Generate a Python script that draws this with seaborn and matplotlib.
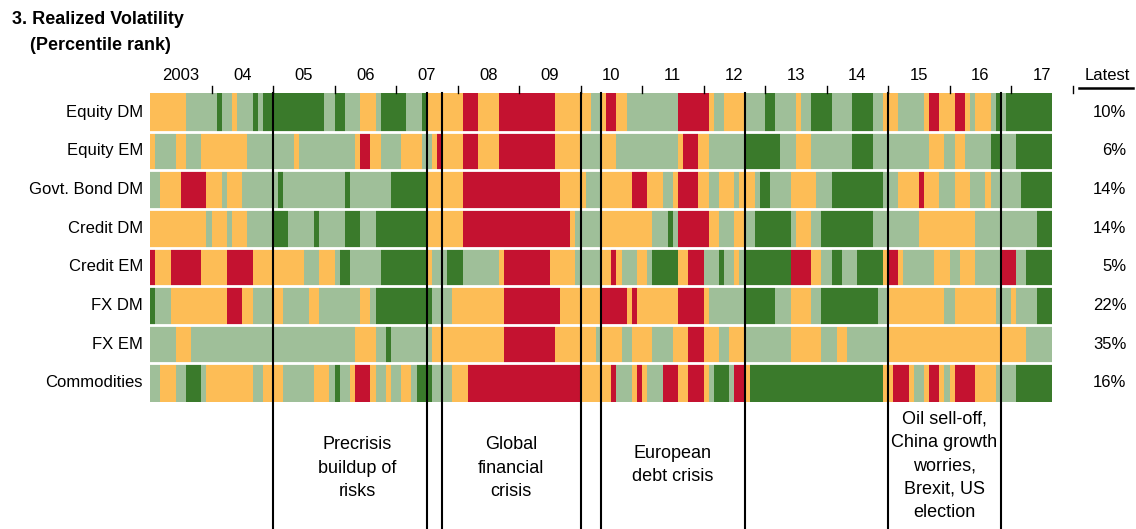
import numpy as np
import pandas as pd
import matplotlib
matplotlib.use("Agg")
import matplotlib.pyplot as plt
from matplotlib.colors import ListedColormap
from matplotlib import font_manager
import seaborn as sns

# rows of the chart, top to bottom
assets = ["Equity DM", "Equity EM", "Govt. Bond DM", "Credit DM",
          "Credit EM", "FX DM", "FX EM", "Commodities"]
latest = ["10%", "6%", "14%", "14%", "5%", "22%", "35%", "16%"]

# monthly percentile bucket, Jan 2003 - Aug 2017, as runs "<bucket><months>"
# D = 0-25, L = 25-50, O = 50-75, R = 75-100
runs = {
    "Equity DM": "O7 L6 D1 L2 O1 L3 D1 L1 D12 L2 D2 L3 O3 L1 D5 L3 D1 O7 R3 O4 R11 O7 L2 "
                 "O1 R2 O2 L10 R6 O1 L2 O4 L4 D2 L4 O1 L2 D4 L4 D4 L2 O3 L5 O1 R2 O3 R2 O1 L1 O3 L1 D1 L1 D9",
    "Equity EM": "O1 L4 O2 L3 O9 L9 O1 L11 O1 R2 O2 L4 O4 L2 O1 R1 O4 R3 O4 R11 O5 L4 "
                 "O3 L12 O1 R3 O2 L7 D7 L3 O3 L8 D4 L11 O3 L2 O2 L5 D2 L3 D7",
    "Govt. Bond DM": "L2 O4 R5 O3 L1 O3 L7 D1 L12 D1 L8 D7 O7 R19 O5 L3 "
                     "O6 R3 O3 L2 O1 R4 O2 L2 O3 L1 O3 L1 D2 L4 O5 L3 D10 L3 O4 R1 O3 L3 O3 L3 O1 L6 D6",
    "Credit DM": "O11 L1 O3 L1 O3 L5 D3 L5 D1 L5 D3 L3 D10 O7 R21 O1 L5 "
                 "O10 L3 D1 L1 R6 O2 L3 O2 L2 D7 L1 O3 L2 D10 L9 O11 L12 D3",
    "Credit EM": "R1 O3 R6 O5 R5 O10 L3 O3 L1 D2 L6 D9 O1 L3 D3 L7 O1 R9 O5 L5 "
                 "O2 R1 O1 L3 O2 L1 D5 O2 R3 L3 D1 L2 O1 L1 D9 R4 O2 L2 D2 L3 D5 O1 R2 O1 L6 O3 L2 O3 L5 R3 L2 D5",
    "FX DM": "D1 L3 O11 R3 O2 L4 O2 L5 O2 L8 O2 L1 D11 L4 O10 R11 O8 "
             "R5 O1 R1 O8 R5 O1 L7 D6 L3 O4 L2 D11 L2 O11 L2 O8 L3 O1 L4 D3",
    "FX EM": "L5 O3 L32 O4 L2 D1 L8 O14 R10 O8 L1 "
             "O4 L2 O4 L4 O3 R3 O3 L2 O3 L9 O6 L3 O2 L8 O27 L5",
    "Commodities": "L2 O3 L2 D3 L1 O9 L2 O4 L6 O3 L1 D1 L2 O1 R3 O1 L2 O1 L2 O2 L1 D3 L4 O3 R22 O4 "
                   "O2 R1 L3 O1 R1 O1 L3 R3 O2 R3 O1 L1 D3 L1 R2 O1 D26 O2 R3 O1 L2 O1 R2 O1 L1 O1 R4 O4 L4 D7",
}
year_labels = ["2003", "04", "05", "06", "07", "08", "09", "10",
               "11", "12", "13", "14", "15", "16", "17"]
# event boundaries, months since Jan 2003
events = [24, 54, 57, 84, 88, 116, 144, 166]
event_text = [(40.5, 9.71, "Precrisis\nbuildup of\nrisks"),
              (70.5, 9.71, "Global\nfinancial\ncrisis"),
              (102, 9.63, "European\ndebt crisis"),
              (155, 9.65, "Oil sell-off,\nChina growth\nworries,\nBrexit, US\nelection")]

code = {"D": 0, "L": 1, "O": 2, "R": 3}
rows = []
for a in assets:
    vals = []
    for tok in runs[a].split():
        vals += [code[tok[0]]] * int(tok[1:])
    rows.append(vals)
months = pd.date_range("2003-01", periods=len(rows[0]), freq="MS")
df = pd.DataFrame(rows, index=assets, columns=months)

fams = [f.name for f in font_manager.fontManager.ttflist]
narrow = "Liberation Sans Narrow" if "Liberation Sans Narrow" in fams else "Liberation Sans"
plt.rcParams["font.family"] = [narrow, "DejaVu Sans"]
fs = 12

W, H = 1136, 529
fig = plt.figure(figsize=(W / 100, H / 100), dpi=100)
def px(x, y):
    return x / W, 1 - y / H

x0, x1, y0, y1 = 150, 1052, 93, 402
ax = fig.add_axes([x0 / W, 1 - y1 / H, (x1 - x0) / W, (y1 - y0) / H])
cmap = ListedColormap(["#3a7a2b", "#9fbf99", "#fdbd56", "#c41230"])
sns.heatmap(df, ax=ax, cmap=cmap, vmin=-0.5, vmax=3.5, cbar=False,
            xticklabels=False, yticklabels=False)
for i in range(1, len(assets)):
    ax.axhline(i, color="white", lw=2)
ax.set_xlabel("")
ax.set_ylabel("")
for s in ax.spines.values():
    s.set_visible(False)

n = df.shape[1]
# year ticks on top
for k in range(1, 16):
    ax.plot([12 * k, 12 * k], [0, -0.18], color="black", lw=1, clip_on=False)
for k, lab in enumerate(year_labels):
    ax.text(12 * k + 6, -0.26, lab, ha="center", va="bottom", fontsize=fs)

# event lines down to the bottom of the figure
ybot = len(assets) + (H - y1) / ((y1 - y0) / len(assets))
for m in events:
    ax.plot([m, m], [0, ybot], color="black", lw=1.5, clip_on=False)
for m, yy, t in event_text:
    ax.text(m, yy, t, ha="center", va="center", fontsize=13, linespacing=1.5)

for i, (a, v) in enumerate(zip(assets, latest)):
    ax.text(-1.4, i + 0.5, a, ha="right", va="center", fontsize=fs)
    ax.text(n + 14.5, i + 0.5, v, ha="right", va="center", fontsize=fs)
ax.text(n + 10.8, -0.26, "Latest", ha="center", va="bottom", fontsize=fs)
ax.plot([n + 5.3, n + 15.9], [-0.12, -0.12], color="black", lw=1.8, clip_on=False)

fig.text(*px(12, 20), "3. Realized Volatility", ha="left", va="center",
         fontsize=13, fontweight="bold")
fig.text(*px(30, 45), "(Percentile rank)", ha="left", va="center",
         fontsize=13, fontweight="bold")

fig.savefig("out.png", dpi=100)
